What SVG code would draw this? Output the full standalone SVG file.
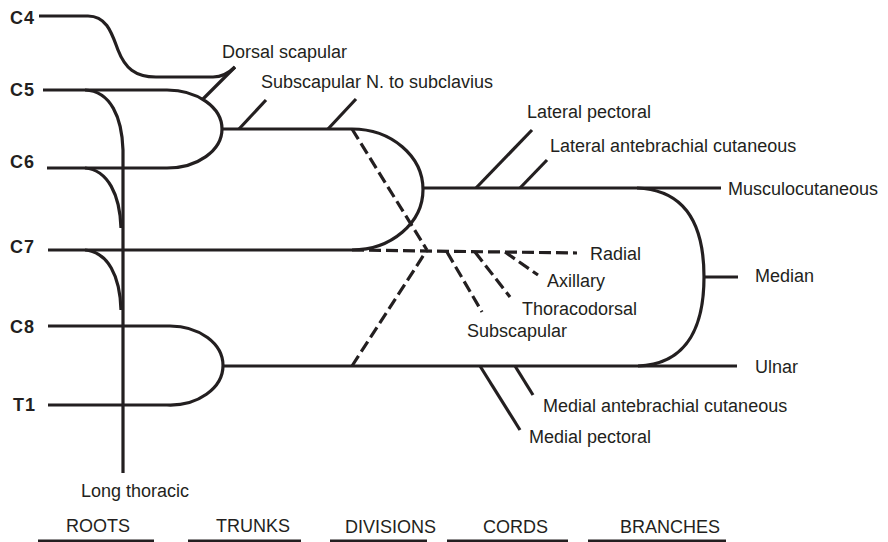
<svg xmlns="http://www.w3.org/2000/svg" width="888" height="542" viewBox="0 0 888 542">
  <style>
    .nerve { fill: none; stroke: #231f20; stroke-width: 3.2; stroke-linecap: butt; stroke-linejoin: round; }
    .post { fill: none; stroke: #231f20; stroke-width: 3.2; stroke-dasharray: 12 5; }
    .root { font-family: "Liberation Sans", Arial, sans-serif; font-weight: bold; font-size: 18px; fill: #231f20; text-anchor: end; letter-spacing: 1px; }
    .lbl { font-family: "Liberation Sans", Arial, sans-serif; font-size: 18px; fill: #231f20; }
    .rule { stroke: #231f20; stroke-width: 3; }
  </style>
  <rect width="888" height="542" fill="#ffffff"/>

  <!-- roots -->
  <g id="roots">
    <g id="root-c4"><text class="root" x="35" y="24">C4</text></g>
    <g id="root-c5"><text class="root" x="35" y="96">C5</text></g>
    <g id="root-c6"><text class="root" x="35" y="168">C6</text></g>
    <g id="root-c7"><text class="root" x="35" y="253">C7</text></g>
    <g id="root-c8"><text class="root" x="35" y="333">C8</text></g>
    <g id="root-t1"><text class="root" x="36" y="411">T1</text></g>
  </g>

  <!-- nerve paths -->
  <g id="connectors">
    <!-- C4 joining the dorsal scapular -->
    <path class="nerve" d="M39,16 H88 C107,16 112,34 118,50 C125,68 135,77 156,77 H213 C222,77 229,73 235,67"/>
    <!-- dorsal scapular -->
    <path class="nerve" d="M235,67 L202,100"/>
    <!-- upper trunk: C5 + C6 -->
    <path class="nerve" d="M43,90 H167 A55,39 0 0 1 222,129 A55,39 0 0 1 167,168 H47"/>
    <!-- long thoracic contributions -->
    <path class="nerve" d="M85,90 C111,91 122,118 123,150 V473"/>
    <path class="nerve" d="M85,168 C108,170 120,195 121,228"/>
    <path class="nerve" d="M85,250 C108,252 120,276 121,310"/>
    <!-- upper trunk to lateral cord -->
    <path class="nerve" d="M222,129 H352 A71,60.5 0 0 1 423,189.5 A71,60.5 0 0 1 352,250"/>
    <!-- suprascapular / subclavius branches -->
    <path class="nerve" d="M239,129 L266,100"/>
    <path class="nerve" d="M328,129 L356,99"/>
    <!-- middle trunk -->
    <path class="nerve" d="M48,250 H352"/>
    <!-- lower trunk: C8 + T1 -->
    <path class="nerve" d="M48,326 H170 A53,39.5 0 0 1 223,365.5 A53,39.5 0 0 1 167,405 H48"/>
    <!-- medial cord / ulnar -->
    <path class="nerve" d="M223,366 H737"/>
    <!-- lateral cord / musculocutaneous -->
    <path class="nerve" d="M423,188 H721"/>
    <!-- lateral pectoral, lateral antebrachial cutaneous -->
    <path class="nerve" d="M476,188 L532,130"/>
    <path class="nerve" d="M520,188 L547,160"/>
    <!-- median -->
    <path class="nerve" d="M637,188 C690,190 704,232 704,277 C704,322 690,364 638,366"/>
    <path class="nerve" d="M704,277 H738"/>
    <!-- medial pectoral, medial antebrachial cutaneous -->
    <path class="nerve" d="M480,366 L520,430"/>
    <path class="nerve" d="M515,366 L533,395"/>
    <!-- posterior divisions and posterior cord -->
    <path class="post" d="M352,129 L427,250"/>
    <path class="post" d="M352,366 L427,250"/>
    <path class="post" d="M352,250 L577,253"/>
    <path class="post" d="M447,252 L482,312"/>
    <path class="post" d="M475,252 L510,297"/>
    <path class="post" d="M505,252 L538,275"/>
  </g>

  <!-- branch names -->
  <g id="branches">
    <g id="dorsal-scapular"><text class="lbl" x="222" y="58">Dorsal scapular</text></g>
    <g id="subscapular-subclavius"><text class="lbl" x="261" y="88">Subscapular N. to subclavius</text></g>
    <g id="lateral-pectoral"><text class="lbl" x="527" y="118">Lateral pectoral</text></g>
    <g id="lateral-antebrachial"><text class="lbl" x="550" y="152">Lateral antebrachial cutaneous</text></g>
    <g id="musculocutaneous"><text class="lbl" x="728" y="195">Musculocutaneous</text></g>
    <g id="radial"><text class="lbl" x="590" y="260">Radial</text></g>
    <g id="median"><text class="lbl" x="755" y="282">Median</text></g>
    <g id="axillary"><text class="lbl" x="547" y="287">Axillary</text></g>
    <g id="thoracodorsal"><text class="lbl" x="522" y="315">Thoracodorsal</text></g>
    <g id="subscapular"><text class="lbl" x="467" y="337">Subscapular</text></g>
    <g id="ulnar"><text class="lbl" x="755" y="373">Ulnar</text></g>
    <g id="medial-antebrachial"><text class="lbl" x="543" y="412">Medial antebrachial cutaneous</text></g>
    <g id="medial-pectoral"><text class="lbl" x="529" y="443">Medial pectoral</text></g>
    <g id="long-thoracic"><text class="lbl" x="81" y="497">Long thoracic</text></g>
  </g>

  <!-- section headings -->
  <g id="sections">
    <g id="sec-roots"><text class="lbl" x="66" y="532">ROOTS</text><line class="rule" x1="38" y1="541" x2="154" y2="541"/></g>
    <g id="sec-trunks"><text class="lbl" x="216" y="532">TRUNKS</text><line class="rule" x1="188" y1="541" x2="301" y2="541"/></g>
    <g id="sec-divisions"><text class="lbl" x="345" y="533">DIVISIONS</text><line class="rule" x1="330" y1="541" x2="427" y2="541"/></g>
    <g id="sec-cords"><text class="lbl" x="483" y="533">CORDS</text><line class="rule" x1="447" y1="541" x2="568" y2="541"/></g>
    <g id="sec-branches"><text class="lbl" x="620" y="533">BRANCHES</text><line class="rule" x1="588" y1="541" x2="726" y2="541"/></g>
  </g>
</svg>
